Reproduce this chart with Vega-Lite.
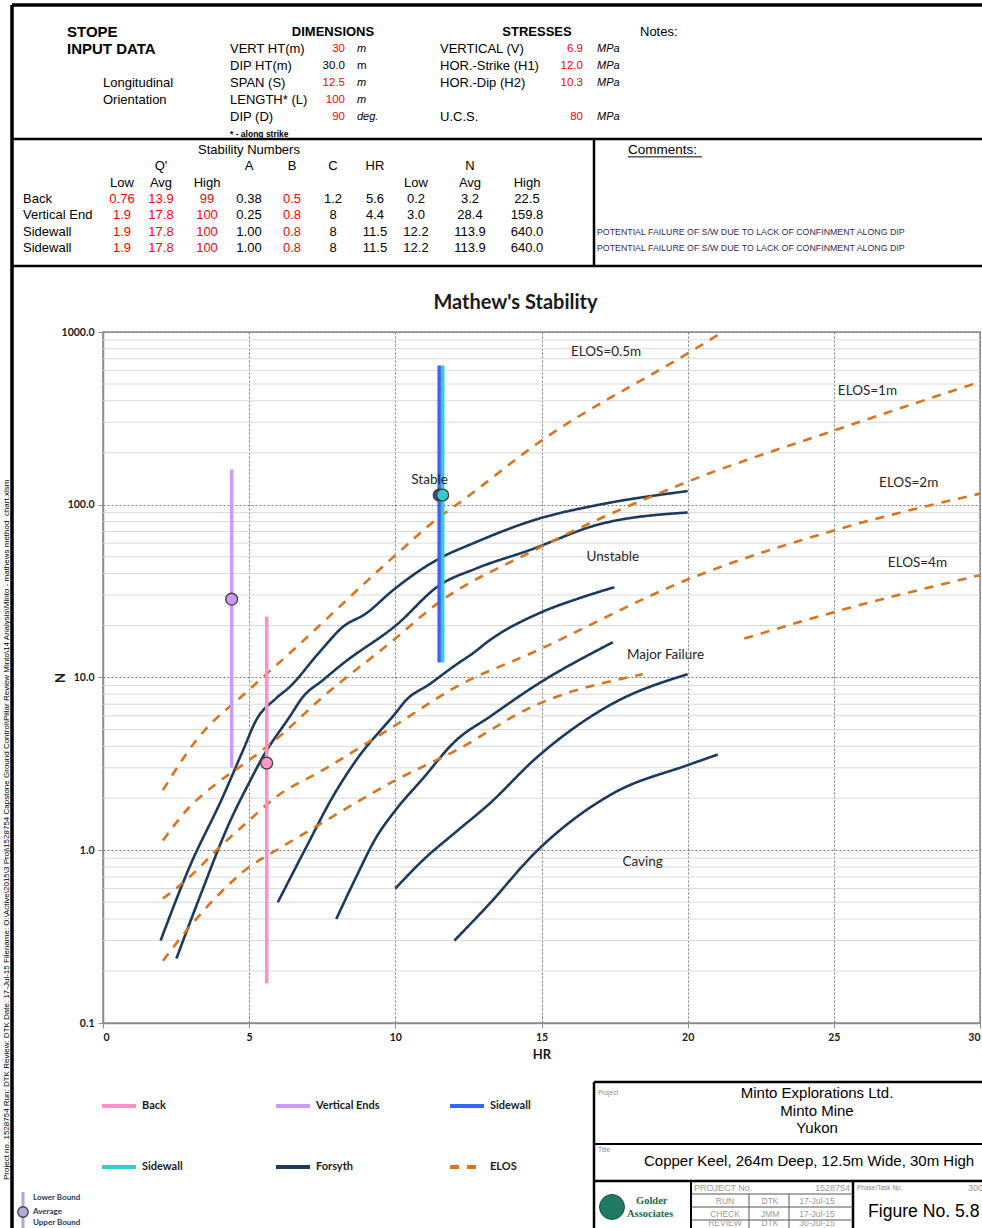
{
"$schema": "https://vega.github.io/schema/vega-lite/v6.json",
"width": 877,
"height": 691,
"autosize": {"type": "none"},
"padding": {"left": 103, "top": 332, "right": 2, "bottom": 205},
"background": "#ffffff",
"title": {"text": "Mathew's Stability", "font": "Lato", "fontSize": 20, "fontWeight": "bold", "color": "#1a1a1a", "anchor": "middle", "frame": "group", "baseline": "bottom", "dx": -26, "dy": 330, "offset": 0},
"config": {"view": {"stroke": "#8c8c8c", "strokeWidth": 1.5}},
"datasets": {
"minorGrid": [{"N":0.2},{"N":0.3},{"N":0.4},{"N":0.5},{"N":0.6},{"N":0.7},{"N":0.8},{"N":0.9},{"N":2},{"N":3},{"N":4},{"N":5},{"N":6},{"N":7},{"N":8},{"N":9},{"N":20},{"N":30},{"N":40},{"N":50},{"N":60},{"N":70},{"N":80},{"N":90},{"N":200},{"N":300},{"N":400},{"N":500},{"N":600},{"N":700},{"N":800},{"N":900}],
"curves": [
{"series":"Forsyth","curve":"F1","HR":1.97,"N":0.30},{"series":"Forsyth","curve":"F1","HR":2.96,"N":0.80},{"series":"Forsyth","curve":"F1","HR":4.1,"N":2.04},{"series":"Forsyth","curve":"F1","HR":4.79,"N":3.79},{"series":"Forsyth","curve":"F1","HR":5.24,"N":5.66},{"series":"Forsyth","curve":"F1","HR":5.93,"N":7.6},{"series":"Forsyth","curve":"F1","HR":6.38,"N":8.8},{"series":"Forsyth","curve":"F1","HR":7.4,"N":14.0},{"series":"Forsyth","curve":"F1","HR":8.2,"N":19.6},{"series":"Forsyth","curve":"F1","HR":9.0,"N":23.5},{"series":"Forsyth","curve":"F1","HR":9.92,"N":32},{"series":"Forsyth","curve":"F1","HR":10.94,"N":42.8},{"series":"Forsyth","curve":"F1","HR":11.51,"N":48.9},{"series":"Forsyth","curve":"F1","HR":12.65,"N":59.7},{"series":"Forsyth","curve":"F1","HR":14.93,"N":83.3},{"series":"Forsyth","curve":"F1","HR":16.9,"N":99.5},{"series":"Forsyth","curve":"F1","HR":20.0,"N":120},
{"series":"Forsyth","curve":"F2","HR":2.51,"N":0.236},{"series":"Forsyth","curve":"F2","HR":3.31,"N":0.537},{"series":"Forsyth","curve":"F2","HR":4.33,"N":1.45},{"series":"Forsyth","curve":"F2","HR":5.02,"N":2.5},{"series":"Forsyth","curve":"F2","HR":5.48,"N":3.5},{"series":"Forsyth","curve":"F2","HR":6.38,"N":5.91},{"series":"Forsyth","curve":"F2","HR":6.84,"N":7.72},{"series":"Forsyth","curve":"F2","HR":7.52,"N":9.65},{"series":"Forsyth","curve":"F2","HR":8.21,"N":12.05},{"series":"Forsyth","curve":"F2","HR":10.03,"N":20.1},{"series":"Forsyth","curve":"F2","HR":11.51,"N":34.2},{"series":"Forsyth","curve":"F2","HR":12.77,"N":42.8},{"series":"Forsyth","curve":"F2","HR":14.59,"N":54.6},{"series":"Forsyth","curve":"F2","HR":16.87,"N":76.2},{"series":"Forsyth","curve":"F2","HR":20.0,"N":90.2},
{"series":"Forsyth","curve":"F3","HR":5.98,"N":0.50},{"series":"Forsyth","curve":"F3","HR":6.95,"N":1.04},{"series":"Forsyth","curve":"F3","HR":7.86,"N":2.04},{"series":"Forsyth","curve":"F3","HR":8.66,"N":3.32},{"series":"Forsyth","curve":"F3","HR":10.0,"N":6.2},{"series":"Forsyth","curve":"F3","HR":10.37,"N":7.4},{"series":"Forsyth","curve":"F3","HR":11.17,"N":9.15},{"series":"Forsyth","curve":"F3","HR":12.09,"N":11.9},{"series":"Forsyth","curve":"F3","HR":12.65,"N":13.8},{"series":"Forsyth","curve":"F3","HR":13.22,"N":16.4},{"series":"Forsyth","curve":"F3","HR":14.93,"N":23.6},{"series":"Forsyth","curve":"F3","HR":16.3,"N":28.8},{"series":"Forsyth","curve":"F3","HR":17.49,"N":33.3},
{"series":"Forsyth","curve":"F4","HR":7.98,"N":0.40},{"series":"Forsyth","curve":"F4","HR":8.66,"N":0.70},{"series":"Forsyth","curve":"F4","HR":9.35,"N":1.19},{"series":"Forsyth","curve":"F4","HR":10.0,"N":1.70},{"series":"Forsyth","curve":"F4","HR":10.94,"N":2.6},{"series":"Forsyth","curve":"F4","HR":12.08,"N":4.33},{"series":"Forsyth","curve":"F4","HR":13.22,"N":5.91},{"series":"Forsyth","curve":"F4","HR":14.8,"N":9.0},{"series":"Forsyth","curve":"F4","HR":17.44,"N":16.0},
{"series":"Forsyth","curve":"F5","HR":10.0,"N":0.60},{"series":"Forsyth","curve":"F5","HR":10.94,"N":0.875},{"series":"Forsyth","curve":"F5","HR":12.08,"N":1.28},{"series":"Forsyth","curve":"F5","HR":13.22,"N":1.86},{"series":"Forsyth","curve":"F5","HR":14.8,"N":3.4},{"series":"Forsyth","curve":"F5","HR":17.44,"N":7.07},{"series":"Forsyth","curve":"F5","HR":20.0,"N":10.45},
{"series":"Forsyth","curve":"F6","HR":12.02,"N":0.30},{"series":"Forsyth","curve":"F6","HR":13.22,"N":0.49},{"series":"Forsyth","curve":"F6","HR":14.76,"N":0.96},{"series":"Forsyth","curve":"F6","HR":17.44,"N":2.13},{"series":"Forsyth","curve":"F6","HR":20.0,"N":3.11},{"series":"Forsyth","curve":"F6","HR":21.03,"N":3.58},
{"series":"ELOS","curve":"E0.5","HR":2.05,"N":2.23},{"series":"ELOS","curve":"E0.5","HR":3.19,"N":4.33},{"series":"ELOS","curve":"E0.5","HR":5.0,"N":8.5},{"series":"ELOS","curve":"E0.5","HR":6.38,"N":13.8},{"series":"ELOS","curve":"E0.5","HR":10.0,"N":51},{"series":"ELOS","curve":"E0.5","HR":11.51,"N":85},{"series":"ELOS","curve":"E0.5","HR":12.08,"N":99.5},{"series":"ELOS","curve":"E0.5","HR":14.93,"N":231},{"series":"ELOS","curve":"E0.5","HR":20.0,"N":752},{"series":"ELOS","curve":"E0.5","HR":21.08,"N":972},
{"series":"ELOS","curve":"E1","HR":2.05,"N":1.14},{"series":"ELOS","curve":"E1","HR":2.96,"N":1.78},{"series":"ELOS","curve":"E1","HR":3.88,"N":2.43},{"series":"ELOS","curve":"E1","HR":5.0,"N":3.32},{"series":"ELOS","curve":"E1","HR":5.93,"N":4.4},{"series":"ELOS","curve":"E1","HR":7.52,"N":7.72},{"series":"ELOS","curve":"E1","HR":10.0,"N":16.8},{"series":"ELOS","curve":"E1","HR":11.28,"N":25.6},{"series":"ELOS","curve":"E1","HR":14.76,"N":54.6},{"series":"ELOS","curve":"E1","HR":20.0,"N":136},{"series":"ELOS","curve":"E1","HR":25.04,"N":270},{"series":"ELOS","curve":"E1","HR":30.0,"N":515},
{"series":"ELOS","curve":"E2","HR":2.05,"N":0.525},{"series":"ELOS","curve":"E2","HR":2.96,"N":0.70},{"series":"ELOS","curve":"E2","HR":3.88,"N":1.0},{"series":"ELOS","curve":"E2","HR":5.0,"N":1.49},{"series":"ELOS","curve":"E2","HR":5.93,"N":2.04},{"series":"ELOS","curve":"E2","HR":7.52,"N":2.91},{"series":"ELOS","curve":"E2","HR":10.0,"N":5.29},{"series":"ELOS","curve":"E2","HR":12.08,"N":8.83},{"series":"ELOS","curve":"E2","HR":14.76,"N":14.1},{"series":"ELOS","curve":"E2","HR":20.0,"N":36.9},{"series":"ELOS","curve":"E2","HR":25.04,"N":71.3},{"series":"ELOS","curve":"E2","HR":30.0,"N":116},
{"series":"ELOS","curve":"E4a","HR":2.05,"N":0.229},{"series":"ELOS","curve":"E4a","HR":2.96,"N":0.36},{"series":"ELOS","curve":"E4a","HR":3.88,"N":0.537},{"series":"ELOS","curve":"E4a","HR":5.0,"N":0.80},{"series":"ELOS","curve":"E4a","HR":5.93,"N":1.0},{"series":"ELOS","curve":"E4a","HR":7.52,"N":1.45},{"series":"ELOS","curve":"E4a","HR":10.0,"N":2.54},{"series":"ELOS","curve":"E4a","HR":12.08,"N":3.79},{"series":"ELOS","curve":"E4a","HR":14.7,"N":6.8},{"series":"ELOS","curve":"E4a","HR":18.46,"N":10.45},
{"series":"ELOS","curve":"E4b","HR":21.94,"N":16.8},{"series":"ELOS","curve":"E4b","HR":25.04,"N":24},{"series":"ELOS","curve":"E4b","HR":30.0,"N":39.1}
],
"surfaces": [
{"series":"Back","HR":5.6,"low":0.17,"avg":3.2,"high":22.5},
{"series":"Vertical Ends","HR":4.4,"low":3.0,"avg":28.4,"high":159.8},
{"series":"Sidewall","HR":11.5,"low":12.2,"avg":113.9,"high":640},
{"series":"Sidewall 2","HR":11.62,"low":12.2,"avg":113.9,"high":640}
],
"zones": [
{"label":"Stable","HR":11.17,"N":140},
{"label":"ELOS=0.5m","HR":17.21,"N":768},
{"label":"ELOS=1m","HR":26.15,"N":455},
{"label":"ELOS=2m","HR":27.56,"N":133},
{"label":"ELOS=4m","HR":27.86,"N":46},
{"label":"Unstable","HR":17.44,"N":50},
{"label":"Major Failure","HR":19.24,"N":13.5},
{"label":"Caving","HR":18.46,"N":0.85}
],
"inputs": [
{"c":0,"r":0,"t":"STOPE","k":"title"},
{"c":0,"r":1,"t":"INPUT DATA","k":"title"},
{"c":1,"r":3,"t":"Longitudinal","k":"label"},
{"c":1,"r":4,"t":"Orientation","k":"label"},
{"c":3,"r":0,"t":"DIMENSIONS","k":"heading"},
{"c":7,"r":0,"t":"STRESSES","k":"heading"},
{"c":10,"r":0,"t":"Notes:","k":"label"},
{"c":2,"r":1,"t":"VERT HT(m)","k":"label"},
{"c":2,"r":2,"t":"DIP HT(m)","k":"label"},
{"c":2,"r":3,"t":"SPAN (S)","k":"label"},
{"c":2,"r":4,"t":"LENGTH* (L)","k":"label"},
{"c":2,"r":5,"t":"DIP (D)","k":"label"},
{"c":6,"r":1,"t":"VERTICAL (V)","k":"label"},
{"c":6,"r":2,"t":"HOR.-Strike (H1)","k":"label"},
{"c":6,"r":3,"t":"HOR.-Dip (H2)","k":"label"},
{"c":6,"r":5,"t":"U.C.S.","k":"label"},
{"c":4,"r":1,"t":"30","k":"input"},
{"c":4,"r":2,"t":"30.0","k":"derived"},
{"c":4,"r":3,"t":"12.5","k":"input"},
{"c":4,"r":4,"t":"100","k":"input"},
{"c":4,"r":5,"t":"90","k":"input"},
{"c":8,"r":1,"t":"6.9","k":"input"},
{"c":8,"r":2,"t":"12.0","k":"input"},
{"c":8,"r":3,"t":"10.3","k":"input"},
{"c":8,"r":5,"t":"80","k":"input"},
{"c":5,"r":1,"t":"m","k":"unitInput"},
{"c":5,"r":2,"t":"m","k":"unit"},
{"c":5,"r":3,"t":"m","k":"unitInput"},
{"c":5,"r":4,"t":"m","k":"unitInput"},
{"c":5,"r":5,"t":"deg.","k":"unitInput"},
{"c":9,"r":1,"t":"MPa","k":"unitInput"},
{"c":9,"r":2,"t":"MPa","k":"unitInput"},
{"c":9,"r":3,"t":"MPa","k":"unitInput"},
{"c":9,"r":5,"t":"MPa","k":"unitInput"},
{"c":2,"r":6,"t":"* - along strike","k":"footnote"}
],
"stability": [
{"c":4,"r":0,"t":"Stability Numbers","k":"head"},
{"c":2,"r":1,"t":"Q'","k":"head"},{"c":4,"r":1,"t":"A","k":"head"},{"c":5,"r":1,"t":"B","k":"head"},{"c":6,"r":1,"t":"C","k":"head"},{"c":7,"r":1,"t":"HR","k":"head"},{"c":9,"r":1,"t":"N","k":"head"},
{"c":1,"r":2,"t":"Low","k":"head"},{"c":2,"r":2,"t":"Avg","k":"head"},{"c":3,"r":2,"t":"High","k":"head"},{"c":8,"r":2,"t":"Low","k":"head"},{"c":9,"r":2,"t":"Avg","k":"head"},{"c":10,"r":2,"t":"High","k":"head"},
{"c":0,"r":3,"t":"Back","k":"surface"},{"c":0,"r":4,"t":"Vertical End","k":"surface"},{"c":0,"r":5,"t":"Sidewall","k":"surface"},{"c":0,"r":6,"t":"Sidewall","k":"surface"},
{"c":1,"r":3,"t":"0.76","k":"input"},{"c":2,"r":3,"t":"13.9","k":"input"},{"c":3,"r":3,"t":"99","k":"input"},{"c":4,"r":3,"t":"0.38","k":"derived"},{"c":5,"r":3,"t":"0.5","k":"input"},{"c":6,"r":3,"t":"1.2","k":"derived"},{"c":7,"r":3,"t":"5.6","k":"derived"},{"c":8,"r":3,"t":"0.2","k":"derived"},{"c":9,"r":3,"t":"3.2","k":"derived"},{"c":10,"r":3,"t":"22.5","k":"derived"},
{"c":1,"r":4,"t":"1.9","k":"input"},{"c":2,"r":4,"t":"17.8","k":"input"},{"c":3,"r":4,"t":"100","k":"input"},{"c":4,"r":4,"t":"0.25","k":"derived"},{"c":5,"r":4,"t":"0.8","k":"input"},{"c":6,"r":4,"t":"8","k":"derived"},{"c":7,"r":4,"t":"4.4","k":"derived"},{"c":8,"r":4,"t":"3.0","k":"derived"},{"c":9,"r":4,"t":"28.4","k":"derived"},{"c":10,"r":4,"t":"159.8","k":"derived"},
{"c":1,"r":5,"t":"1.9","k":"input"},{"c":2,"r":5,"t":"17.8","k":"input"},{"c":3,"r":5,"t":"100","k":"input"},{"c":4,"r":5,"t":"1.00","k":"derived"},{"c":5,"r":5,"t":"0.8","k":"input"},{"c":6,"r":5,"t":"8","k":"derived"},{"c":7,"r":5,"t":"11.5","k":"derived"},{"c":8,"r":5,"t":"12.2","k":"derived"},{"c":9,"r":5,"t":"113.9","k":"derived"},{"c":10,"r":5,"t":"640.0","k":"derived"},
{"c":1,"r":6,"t":"1.9","k":"input"},{"c":2,"r":6,"t":"17.8","k":"input"},{"c":3,"r":6,"t":"100","k":"input"},{"c":4,"r":6,"t":"1.00","k":"derived"},{"c":5,"r":6,"t":"0.8","k":"input"},{"c":6,"r":6,"t":"8","k":"derived"},{"c":7,"r":6,"t":"11.5","k":"derived"},{"c":8,"r":6,"t":"12.2","k":"derived"},{"c":9,"r":6,"t":"113.9","k":"derived"},{"c":10,"r":6,"t":"640.0","k":"derived"},
{"c":12,"r":0,"t":"Comments:","k":"commentsHead"},
{"c":11,"r":5,"t":"POTENTIAL FAILURE OF S/W DUE TO LACK OF CONFINMENT ALONG DIP","k":"comment"},
{"c":11,"r":6,"t":"POTENTIAL FAILURE OF S/W DUE TO LACK OF CONFINMENT ALONG DIP","k":"comment"}
],
"frame": [
{"k":"border","x0":0,"x1":2,"y0":0,"y1":0},
{"k":"border","x0":0,"x1":0,"y0":0,"y1":3},
{"k":"divider","x0":0,"x1":2,"y0":1,"y1":1},
{"k":"divider","x0":0,"x1":2,"y0":2,"y1":2},
{"k":"divider","x0":1,"x1":1,"y0":1,"y1":2}
],
"margin": [
{"k":"path","c":0,"r":0,"t":"Project no. 1528754   Run: DTK   Review: DTK   Date: 17-Jul-15   Filename: O:\\Active\\2015\\3 Proj\\1528754 Capstone Ground Control\\Pillar Review Minto\\14 Analysis\\Minto - mathews method_chart.xlsm"},
{"k":"glyph","c":1,"r":1,"r2":5},
{"k":"marker","c":1,"r":3},
{"k":"bound","c":2,"r":2,"t":"Lower Bound"},
{"k":"bound","c":2,"r":3,"t":"Average"},
{"k":"bound","c":2,"r":4,"t":"Upper Bound"}
],
"titleBlock": [
{"k":"heavy","c":0,"c2":18,"r":0,"r2":0},
{"k":"heavy","c":0,"c2":0,"r":0,"r2":16},
{"k":"heavy","c":0,"c2":18,"r":7,"r2":7},
{"k":"heavy","c":14,"c2":14,"r":7,"r2":16},
{"k":"medium","c":0,"c2":18,"r":4,"r2":4},
{"k":"medium","c":6,"c2":6,"r":7,"r2":16},
{"k":"light","c":9,"c2":9,"r":9,"r2":16},
{"k":"light","c":11,"c2":11,"r":9,"r2":16},
{"k":"light","c":6,"c2":14,"r":9,"r2":9},
{"k":"light","c":6,"c2":14,"r":11,"r2":11},
{"k":"light","c":6,"c2":14,"r":14,"r2":14},
{"k":"tiny","c":1,"r":1,"t":"Project"},
{"k":"tiny","c":1,"r":5,"t":"Title"},
{"k":"client","c":12,"r":1,"t":"Minto Explorations Ltd."},
{"k":"client","c":12,"r":2,"t":"Minto Mine"},
{"k":"client","c":12,"r":3,"t":"Yukon"},
{"k":"titleText","c":5,"r":6,"t":"Copper Keel, 264m Deep, 12.5m Wide, 30m High"},
{"k":"cellLeft","c":7,"r":8,"t":"PROJECT No."},
{"k":"cellRight","c":13,"r":8,"t":"1528754"},
{"k":"cell","c":8,"r":10,"t":"RUN"},{"k":"cell","c":10,"r":10,"t":"DTK"},{"k":"cell","c":12,"r":10,"t":"17-Jul-15"},
{"k":"cell","c":8,"r":13,"t":"CHECK"},{"k":"cell","c":10,"r":13,"t":"JMM"},{"k":"cell","c":12,"r":13,"t":"17-Jul-15"},
{"k":"cell","c":8,"r":15,"t":"REVIEW"},{"k":"cell","c":10,"r":15,"t":"DTK"},{"k":"cell","c":12,"r":15,"t":"30-Jul-15"},
{"k":"tiny","c":15,"r":8,"t":"Phase/Task No."},
{"k":"cellLeft","c":17,"r":8,"t":"300"},
{"k":"figure","c":16,"r":12,"t":"Figure No. 5.8"},
{"k":"logoMark","c":2,"r":11},
{"k":"logoText","c":4,"r":10,"t":"Golder"},
{"k":"logoText","c":3,"r":13,"t":"Associates"}
]
},
"layer": [
{
"layer": [
{
"data": {"name": "minorGrid"},
"mark": {"type": "rule", "stroke": "#d9d9d9", "strokeWidth": 1},
"encoding": {
"y": {"field": "N", "type": "quantitative", "scale": {"type": "log", "domain": [0.1, 1000], "nice": false},
"axis": {"values": [0.1, 1, 10, 100, 1000], "format": ".1f", "title": "N", "titleX": -36, "titleY": 345.5, "titleAngle": 270, "titleBaseline": "bottom", "titleAlign": "center", "grid": true, "gridColor": "#7a7a7a", "gridDash": [2, 2], "gridWidth": 1, "domainColor": "#8c8c8c", "domainWidth": 1.5, "tickColor": "#8c8c8c", "tickSize": 5, "labelFont": "Lato", "labelFontSize": 10.5, "labelFontWeight": "bold", "labelColor": "#1a1a1a", "labelPadding": 4, "titleFont": "Lato", "titleFontSize": 13, "titleFontWeight": "bold", "titleColor": "#1a1a1a"}}
}
},
{
"data": {"name": "curves"},
"mark": {"type": "line", "strokeWidth": 2.6, "interpolate": "monotone"},
"encoding": {
"x": {"field": "HR", "type": "quantitative", "scale": {"domain": [0, 30], "nice": false, "zero": false},
"axis": {"values": [0, 5, 10, 15, 20, 25, 30], "title": "HR", "grid": true, "gridColor": "#7a7a7a", "gridDash": [2, 2], "gridWidth": 1, "domainColor": "#8c8c8c", "domainWidth": 1.5, "tickColor": "#8c8c8c", "tickSize": 5, "labelFont": "Lato", "labelFontSize": 10.5, "labelFontWeight": "bold", "labelColor": "#1a1a1a", "labelPadding": 4, "labelFlush": true, "titleFont": "Lato", "titleFontSize": 13, "titleFontWeight": "bold", "titleColor": "#1a1a1a", "titlePadding": 6}},
"y": {"field": "N", "type": "quantitative", "scale": {"type": "log", "domain": [0.1, 1000], "nice": false}},
"detail": {"field": "curve"},
"color": {"field": "series", "type": "nominal",
"scale": {"domain": ["Back", "Vertical Ends", "Sidewall", "Sidewall 2", "Forsyth", "ELOS"], "range": ["#FF8FC8", "#CC99FF", "#3366FF", "#33CCCC", "#1B3A5C", "#D8731E"]},
"legend": {"orient": "none", "legendX": -3, "legendY": 755, "direction": "horizontal", "columns": 3, "title": null, "symbolType": "stroke", "symbolSize": 1156, "symbolStrokeWidth": 4, "labelFont": "Lato", "labelFontSize": 11, "labelFontWeight": "bold", "labelColor": "#1a1a1a", "labelOffset": 4, "columnPadding": 62, "rowPadding": 34, "gridAlign": "all", "padding": 0, "labelExpr": "datum.label == 'Sidewall 2' ? 'Sidewall' : datum.label"}},
"strokeDash": {"field": "series", "type": "nominal",
"scale": {"domain": ["Back", "Vertical Ends", "Sidewall", "Sidewall 2", "Forsyth", "ELOS"], "range": [[1, 0], [1, 0], [1, 0], [1, 0], [1, 0], [9, 8]]},
"legend": {"orient": "none", "legendX": -3, "legendY": 755, "direction": "horizontal", "columns": 3, "title": null, "symbolType": "stroke", "symbolSize": 1156, "symbolStrokeWidth": 4, "labelFont": "Lato", "labelFontSize": 11, "labelFontWeight": "bold", "labelColor": "#1a1a1a", "labelOffset": 4, "columnPadding": 62, "rowPadding": 34, "gridAlign": "all", "padding": 0, "labelExpr": "datum.label == 'Sidewall 2' ? 'Sidewall' : datum.label"}}
}
},
{
"data": {"name": "surfaces"},
"mark": {"type": "rule", "strokeWidth": 3.5},
"encoding": {
"x": {"field": "HR", "type": "quantitative", "scale": {"domain": [0, 30], "nice": false, "zero": false}},
"y": {"field": "low", "type": "quantitative", "scale": {"type": "log", "domain": [0.1, 1000], "nice": false}},
"y2": {"field": "high"},
"color": {"field": "series", "type": "nominal"}
}
},
{
"data": {"name": "surfaces"},
"mark": {"type": "point", "shape": "circle", "filled": true, "size": 140, "stroke": "#404040", "strokeWidth": 1.3, "opacity": 1},
"encoding": {
"x": {"field": "HR", "type": "quantitative", "scale": {"domain": [0, 30], "nice": false, "zero": false}},
"y": {"field": "avg", "type": "quantitative", "scale": {"type": "log", "domain": [0.1, 1000], "nice": false}},
"fill": {"field": "series", "type": "nominal", "scale": {"domain": ["Back", "Vertical Ends", "Sidewall", "Sidewall 2"], "range": ["#FF99CC", "#CC99FF", "#2F4FA0", "#33CCCC"]}, "legend": null}
}
},
{
"data": {"name": "zones"},
"mark": {"type": "text", "font": "Lato", "fontSize": 13.5, "color": "#262626", "baseline": "middle"},
"encoding": {
"x": {"field": "HR", "type": "quantitative", "scale": {"domain": [0, 30], "nice": false, "zero": false}},
"y": {"field": "N", "type": "quantitative", "scale": {"type": "log", "domain": [0.1, 1000], "nice": false}},
"text": {"field": "label", "type": "nominal"}
}
}
]
},
{
"data": {"name": "inputs"},
"encoding": {
"x": {"field": "c", "type": "quantitative", "scale": {"domain": [0,1,2,3,4,5,6,7,8,9,10], "range": [-36,0,127,230,242,254,337,434,480,494,537], "nice": false, "zero": false}, "axis": null},
"y": {"field": "r", "type": "quantitative", "scale": {"domain": [0, 6], "range": [-300, -198], "nice": false, "zero": false}, "axis": null},
"text": {"field": "t", "type": "nominal"}
},
"layer": [
{"transform": [{"filter": "datum.k == 'title'"}], "mark": {"type": "text", "align": "left", "baseline": "middle", "font": "Liberation Sans", "fontSize": 15, "fontWeight": "bold", "color": "#000000"}},
{"transform": [{"filter": "datum.k == 'heading'"}], "mark": {"type": "text", "align": "center", "baseline": "middle", "font": "Liberation Sans", "fontSize": 13, "fontWeight": "bold", "color": "#000000"}},
{"transform": [{"filter": "datum.k == 'label'"}], "mark": {"type": "text", "align": "left", "baseline": "middle", "font": "Liberation Sans", "fontSize": 13, "color": "#000000"}},
{"transform": [{"filter": "datum.k == 'input'"}], "mark": {"type": "text", "align": "right", "baseline": "middle", "font": "Liberation Sans", "fontSize": 11.5, "color": "#FF0000"}},
{"transform": [{"filter": "datum.k == 'derived'"}], "mark": {"type": "text", "align": "right", "baseline": "middle", "font": "Liberation Sans", "fontSize": 11.5, "color": "#000000"}},
{"transform": [{"filter": "datum.k == 'unitInput'"}], "mark": {"type": "text", "align": "left", "baseline": "middle", "font": "Liberation Sans", "fontSize": 11, "fontStyle": "italic", "color": "#000000"}},
{"transform": [{"filter": "datum.k == 'unit'"}], "mark": {"type": "text", "align": "left", "baseline": "middle", "font": "Liberation Sans", "fontSize": 11.5, "color": "#000000"}},
{"transform": [{"filter": "datum.k == 'footnote'"}], "mark": {"type": "text", "align": "left", "baseline": "middle", "font": "Liberation Sans", "fontSize": 8.5, "fontWeight": "bold", "color": "#000000"}}
]
},
{
"data": {"name": "stability"},
"encoding": {
"x": {"field": "c", "type": "quantitative", "scale": {"domain": [0,1,2,3,4,5,6,7,8,9,10,11,12,13], "range": [-80,19,58,104,146,189,230,272,313,367,424,494,525,599], "nice": false, "zero": false}, "axis": null},
"y": {"field": "r", "type": "quantitative", "scale": {"domain": [0, 6], "range": [-182, -84], "nice": false, "zero": false}, "axis": null}
},
"layer": [
{"transform": [{"filter": "datum.k == 'head'"}], "mark": {"type": "text", "align": "center", "baseline": "middle", "font": "Liberation Sans", "fontSize": 13, "color": "#000000"}, "encoding": {"text": {"field": "t", "type": "nominal"}}},
{"transform": [{"filter": "datum.k == 'surface'"}], "mark": {"type": "text", "align": "left", "baseline": "middle", "font": "Liberation Sans", "fontSize": 13, "color": "#000000"}, "encoding": {"text": {"field": "t", "type": "nominal"}}},
{"transform": [{"filter": "datum.k == 'input'"}], "mark": {"type": "text", "align": "center", "baseline": "middle", "font": "Liberation Sans", "fontSize": 13, "color": "#FF0000"}, "encoding": {"text": {"field": "t", "type": "nominal"}}},
{"transform": [{"filter": "datum.k == 'derived'"}], "mark": {"type": "text", "align": "center", "baseline": "middle", "font": "Liberation Sans", "fontSize": 13, "color": "#000000"}, "encoding": {"text": {"field": "t", "type": "nominal"}}},
{"transform": [{"filter": "datum.k == 'commentsHead'"}], "mark": {"type": "text", "align": "left", "baseline": "middle", "font": "Liberation Sans", "fontSize": 13.5, "color": "#000000"}, "encoding": {"text": {"field": "t", "type": "nominal"}}},
{"transform": [{"filter": "datum.k == 'comment'"}], "mark": {"type": "text", "align": "left", "baseline": "middle", "font": "Liberation Sans", "fontSize": 8.8, "color": "#33285A"}, "encoding": {"text": {"field": "t", "type": "nominal"}}},
{"data": {"values": [{"c": 12, "c2": 13, "r": 0.42}]}, "mark": {"type": "rule", "color": "#000000", "strokeWidth": 1}, "encoding": {"x2": {"field": "c2"}}}
]
},
{
"data": {"name": "frame"},
"encoding": {
"x": {"field": "x0", "type": "quantitative", "scale": {"domain": [0, 1, 2], "range": [-91, 491, 882], "nice": false, "zero": false}, "axis": null},
"x2": {"field": "x1"},
"y": {"field": "y0", "type": "quantitative", "scale": {"domain": [0, 1, 2, 3], "range": [-327, -193, -66, 900], "nice": false, "zero": false}, "axis": null},
"y2": {"field": "y1"}
},
"layer": [
{"transform": [{"filter": "datum.k == 'border'"}], "mark": {"type": "rule", "color": "#000000", "strokeWidth": 3.5}},
{"transform": [{"filter": "datum.k == 'divider'"}], "mark": {"type": "rule", "color": "#000000", "strokeWidth": 2.5}}
]
},
{
"data": {"name": "margin"},
"encoding": {
"x": {"field": "c", "type": "quantitative", "scale": {"domain": [0, 1, 2], "range": [-96, -80, -70], "nice": false, "zero": false}, "axis": null},
"y": {"field": "r", "type": "quantitative", "scale": {"domain": [0, 1, 2, 3, 4, 5], "range": [848, 860, 866, 880, 891, 900], "nice": false, "zero": false}, "axis": null}
},
"layer": [
{"transform": [{"filter": "datum.k == 'path'"}], "mark": {"type": "text", "angle": 270, "align": "left", "baseline": "middle", "font": "Liberation Sans", "fontSize": 8, "color": "#000000"}, "encoding": {"text": {"field": "t", "type": "nominal"}}},
{"transform": [{"filter": "datum.k == 'glyph'"}], "mark": {"type": "rule", "color": "#B4A7D6", "strokeWidth": 3}, "encoding": {"y2": {"field": "r2"}}},
{"transform": [{"filter": "datum.k == 'marker'"}], "mark": {"type": "point", "shape": "circle", "filled": true, "fill": "#B4A7D6", "stroke": "#404040", "strokeWidth": 1.3, "size": 110, "opacity": 1}},
{"transform": [{"filter": "datum.k == 'bound'"}], "mark": {"type": "text", "align": "left", "baseline": "middle", "font": "Lato", "fontSize": 8, "fontWeight": "bold", "color": "#1F3864"}, "encoding": {"text": {"field": "t", "type": "nominal"}}}
]
},
{
"data": {"name": "titleBlock"},
"encoding": {
"x": {"field": "c", "type": "quantitative", "scale": {"domain": [0,1,2,3,4,5,6,7,8,9,10,11,12,13,14,15,16,17,18], "range": [491,495,509,524,533,541,588,591,622,646,667,686,714,747,750,754,765,865,882], "nice": false, "zero": false}, "axis": null},
"y": {"field": "r", "type": "quantitative", "scale": {"domain": [0,1,2,3,4,5,6,7,8,9,10,11,12,13,14,15,16], "range": [750,761,779,796,812,818,829,849,856,862,869,875,880,882,888,891,900], "nice": false, "zero": false}, "axis": null}
},
"layer": [
{"transform": [{"filter": "datum.k == 'heavy'"}], "mark": {"type": "rule", "color": "#000000", "strokeWidth": 2.5}, "encoding": {"x2": {"field": "c2"}, "y2": {"field": "r2"}}},
{"transform": [{"filter": "datum.k == 'medium'"}], "mark": {"type": "rule", "color": "#000000", "strokeWidth": 2}, "encoding": {"x2": {"field": "c2"}, "y2": {"field": "r2"}}},
{"transform": [{"filter": "datum.k == 'light'"}], "mark": {"type": "rule", "color": "#555555", "strokeWidth": 1}, "encoding": {"x2": {"field": "c2"}, "y2": {"field": "r2"}}},
{"transform": [{"filter": "datum.k == 'tiny'"}], "mark": {"type": "text", "align": "left", "baseline": "middle", "font": "Liberation Sans", "fontSize": 6.5, "color": "#888888"}, "encoding": {"text": {"field": "t", "type": "nominal"}}},
{"transform": [{"filter": "datum.k == 'client'"}], "mark": {"type": "text", "align": "center", "baseline": "middle", "font": "Liberation Sans", "fontSize": 15, "color": "#000000"}, "encoding": {"text": {"field": "t", "type": "nominal"}}},
{"transform": [{"filter": "datum.k == 'titleText'"}], "mark": {"type": "text", "align": "left", "baseline": "middle", "font": "Liberation Sans", "fontSize": 15, "color": "#000000"}, "encoding": {"text": {"field": "t", "type": "nominal"}}},
{"transform": [{"filter": "datum.k == 'cellLeft'"}], "mark": {"type": "text", "align": "left", "baseline": "middle", "font": "Liberation Sans", "fontSize": 9, "color": "#9a9a9a"}, "encoding": {"text": {"field": "t", "type": "nominal"}}},
{"transform": [{"filter": "datum.k == 'cellRight'"}], "mark": {"type": "text", "align": "right", "baseline": "middle", "font": "Liberation Sans", "fontSize": 9, "color": "#9a9a9a"}, "encoding": {"text": {"field": "t", "type": "nominal"}}},
{"transform": [{"filter": "datum.k == 'cell'"}], "mark": {"type": "text", "align": "center", "baseline": "middle", "font": "Liberation Sans", "fontSize": 8.5, "color": "#9a9a9a"}, "encoding": {"text": {"field": "t", "type": "nominal"}}},
{"transform": [{"filter": "datum.k == 'figure'"}], "mark": {"type": "text", "align": "left", "baseline": "middle", "font": "Liberation Sans", "fontSize": 17.6, "color": "#000000"}, "encoding": {"text": {"field": "t", "type": "nominal"}}},
{"transform": [{"filter": "datum.k == 'logoMark'"}], "mark": {"type": "point", "shape": "circle", "filled": true, "fill": "#1F7A66", "stroke": "#0F4D3E", "strokeWidth": 1, "size": 620, "opacity": 1}},
{"transform": [{"filter": "datum.k == 'logoText'"}], "mark": {"type": "text", "align": "left", "baseline": "middle", "font": "Liberation Serif", "fontSize": 10.5, "fontWeight": "bold", "color": "#1D6B48"}, "encoding": {"text": {"field": "t", "type": "nominal"}}}
]
}
],
"resolve": {"scale": {"x": "independent", "y": "independent"}}
}
